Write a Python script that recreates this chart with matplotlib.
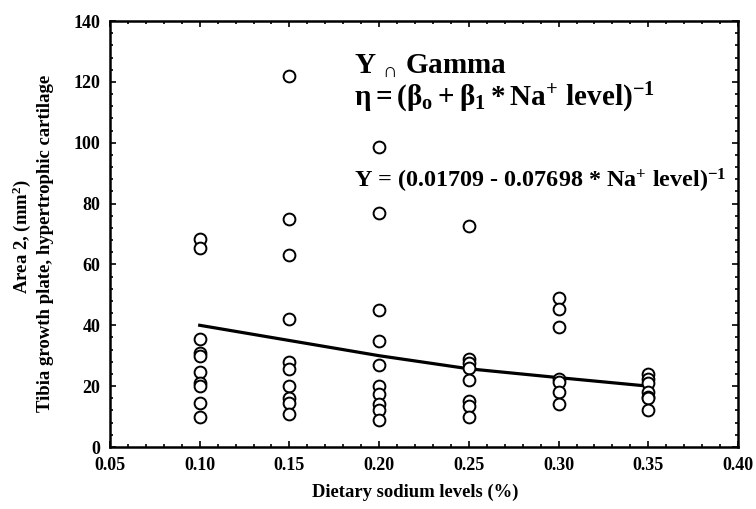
import numpy as np
import matplotlib.pyplot as plt
from matplotlib.ticker import MultipleLocator

plt.rcParams['font.family'] = ['Liberation Serif', 'DejaVu Serif']
plt.rcParams['font.weight'] = 'bold'
plt.rcParams['mathtext.fontset'] = 'custom'
plt.rcParams['mathtext.rm'] = 'Liberation Serif:bold'
plt.rcParams['mathtext.it'] = 'Liberation Serif:bold'
plt.rcParams['mathtext.bf'] = 'Liberation Serif:bold'

# sodium levels (%) and measured area per level
levels = [0.10, 0.15, 0.20, 0.25, 0.30, 0.35]
area_010 = [68.5, 65.5, 35.5, 31, 30, 24.5, 21, 20, 14.5, 10]
area_015 = [122, 75, 63, 42, 28, 25.5, 20, 16, 14.5, 11]
area_020 = [98.5, 77, 45, 35, 27, 20, 17.5, 14, 12, 9]
area_025 = [72.5, 29, 27.5, 26, 22, 15, 13.5, 10]
area_030 = [49, 45.5, 39.5, 22.5, 21.5, 18, 14]
area_035 = [24, 22.5, 21, 18, 16.5, 16, 12]
areas = [area_010, area_015, area_020, area_025, area_030, area_035]

# fitted gamma curve, read at each level
fit_y = [40, 35, 30, 25.7, 22.8, 20]

fig = plt.figure(figsize=(7.56, 5.09), dpi=100)
ax = fig.add_axes([110/756, 1 - 447/509, 628/756, 426/509])

for lv, vals in zip(levels, areas):
    ax.plot([lv]*len(vals), vals, 'o', ms=8.5, mfc='white', mec='black', mew=1.4,
            linestyle='none', zorder=3)

ax.plot(levels, fit_y, color='black', lw=2.3, zorder=2)

ax.set_xlim(0.05, 0.40)
ax.set_ylim(0, 140)
ax.xaxis.set_major_locator(MultipleLocator(0.05))
ax.xaxis.set_minor_locator(MultipleLocator(0.01))
ax.yaxis.set_major_locator(MultipleLocator(20))
ax.yaxis.set_minor_locator(MultipleLocator(4))
ax.xaxis.set_major_formatter(plt.FormatStrFormatter('%.2f'))
ax.tick_params(which='both', direction='in', top=True, right=True,
               labelsize=13, width=1.2)
ax.tick_params(which='major', length=4, pad=7)
ax.tick_params(which='minor', length=2.5)
for s in ax.spines.values():
    s.set_linewidth(1.8)

ax.set_xlabel('Dietary sodium levels (%)', fontsize=13.4, fontweight='bold', labelpad=9)
ax.xaxis.set_label_coords(0.486, -0.085)
fig.text(22/756, 1 - 236/509, r'Area 2, (mm$^2$)', rotation=90, fontsize=13.5,
         fontweight='bold', ha='center', va='center')
fig.text(46/756, 1 - 243/509, 'Tibia growth plate, hypertrophic cartilage',
         rotation=90, fontsize=13.5, fontweight='bold', ha='center', va='center')

ax.text(0.186, 122.9, r'Y $_{\cap}$ Gamma', fontsize=21, fontweight='bold',
        ha='left', va='baseline')
ax.text(0.186, 112.2, r'$\eta = (\beta_o + \beta_1 * \mathrm{Na}^{+}\ \mathrm{level})^{-1}$',
        fontsize=21, ha='left', va='baseline')
ax.text(0.186, 85.4, r'Y = (0.01709 - 0.07698 * Na$^{+}$ level)$^{-1}$',
        fontsize=17.4, fontweight='bold', ha='left', va='baseline')

fig.savefig('out.png', dpi=100)
